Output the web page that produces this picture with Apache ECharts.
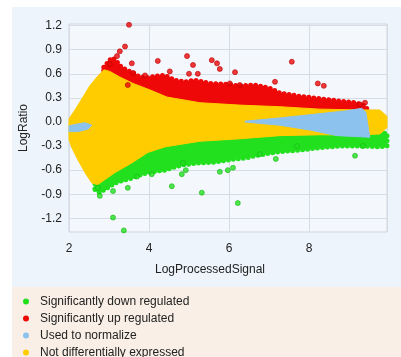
<!DOCTYPE html>
<html>
<head>
<meta charset="utf-8">
<script src="https://cdn.jsdelivr.net/npm/echarts@6/dist/echarts.min.js"></script>
<style>
  html, body { margin: 0; padding: 0; background: #fff; }
  #app { width: 401px; height: 357px; }
</style>
</head>
<body>
<div id="app"></div>
<script>
// values
const xTicks = [2, 4, 6, 8];
const yTicks = [-1.2, -0.9, -0.6, -0.3, 0, 0.3, 0.6, 0.9, 1.2];

const names = ['Significantly down regulated', 'Significantly up regulated', 'Used to normalize', 'Not differentially expressed'];

// dense cloud outlines
const yellowUpper = [[2.0,0.04],[2.15,0.15],[2.35,0.31],[2.52,0.45],[2.7,0.56],[2.87,0.65],[3.02,0.63],[3.27,0.56],[3.6,0.48],[4.02,0.4],[4.45,0.31],[5.27,0.24],[6.27,0.21],[7.27,0.19],[8.27,0.16],[9.27,0.15],[9.77,0.15],[9.95,0.07]];
const yellowLower = [[2.0,-0.22],[2.07,-0.32],[2.22,-0.47],[2.4,-0.63],[2.57,-0.76],[2.72,-0.78],[3.15,-0.63],[3.57,-0.51],[3.97,-0.38],[4.4,-0.31],[5.27,-0.24],[6.27,-0.21],[7.27,-0.17],[8.27,-0.16],[9.27,-0.16],[9.77,-0.15],[9.95,-0.07]];

const redBand = [[2.87,0.68],[2.97,0.74],[3.07,0.8],[3.17,0.77],[3.27,0.7],[3.42,0.65],[3.57,0.62],[3.77,0.56],[3.97,0.55],[4.17,0.57],[4.4,0.58],[4.65,0.52],[4.9,0.5],[5.15,0.52],[5.52,0.48],[5.9,0.47],[6.27,0.45],[6.65,0.46],[7.02,0.42],[7.27,0.36],[7.77,0.32],[8.27,0.29],[8.77,0.26],[9.15,0.24],[9.4,0.2],[9.47,0.15],[9.47,0.12],[2.87,0.12]];

const greenBand = [[2.65,-0.84],[2.77,-0.88],[3.02,-0.8],[3.15,-0.76],[3.4,-0.72],[3.57,-0.7],[3.77,-0.66],[3.97,-0.63],[4.22,-0.61],[4.4,-0.6],[4.65,-0.56],[4.9,-0.53],[5.27,-0.51],[5.65,-0.5],[6.02,-0.47],[6.4,-0.45],[6.77,-0.41],[7.27,-0.37],[7.77,-0.35],[8.27,-0.32],[8.77,-0.3],[9.27,-0.3],[9.77,-0.31],[9.95,-0.3],[9.95,-0.14],[2.65,-0.14]];

const blueLeft = [[2.0,-0.05],[2.15,-0.03],[2.4,-0.01],[2.57,-0.04],[2.47,-0.09],[2.22,-0.12],[2.0,-0.12]];
const blueRight = [[6.4,0.01],[7.27,0.05],[8.02,0.09],[8.95,0.14],[9.32,0.17],[9.42,0.12],[9.52,-0.19],[8.7,-0.17],[8.02,-0.1],[7.27,-0.04],[6.4,0.0]];

// scattered outliers
const upPoints = [[3.5,1.21],[3.4,0.94],[3.27,0.88],[3.2,0.82],[3.57,0.73],[4.22,0.76],[4.52,0.63],[3.6,0.61],[3.47,0.46],[4.95,0.82],[5.1,0.71],[5.57,0.77],[5.7,0.73],[5.77,0.66],[5.0,0.6],[5.22,0.6],[6.15,0.62],[6.02,0.48],[6.27,0.46],[7.15,0.5],[7.57,0.75],[8.22,0.48],[8.37,0.45],[9.27,0.22],[9.4,0.24],[3.9,0.58],[3.02,0.72]];
const downPoints = [[2.72,-0.82],[2.77,-0.92],[3.1,-0.86],[3.47,-0.82],[3.1,-1.19],[3.37,-1.35],[4.57,-0.8],[4.07,-0.65],[3.7,-0.68],[4.82,-0.65],[4.92,-0.6],[5.32,-0.88],[5.77,-0.62],[5.97,-0.6],[6.1,-0.57],[6.22,-1.01],[4.85,-0.51],[6.77,-0.4],[7.17,-0.46],[9.15,-0.42],[9.35,-0.3],[7.7,-0.3]];

const colors = {
  down: '#22e01e',
  up: '#ee0808',
  norm: '#8cc2ee',
  notDiff: '#ffcc00'
};

// filled outline of a dense cloud; beaded stroke gives the dotty edge
function polygon(name, color, pts, beads) {
  return {
    type: 'custom',
    name: name,
    silent: true,
    data: [pts[0]],
    itemStyle: { color: color },
    renderItem: function (params, api) {
      return {
        type: 'polygon',
        shape: { points: pts.map(p => api.coord(p)) },
        style: beads
          ? { fill: color, stroke: color, lineWidth: 5, lineDash: [0, 5], lineCap: 'round', lineJoin: 'round' }
          : { fill: color, stroke: color, lineWidth: 1 }
      };
    }
  };
}

var myChart = echarts.init(document.getElementById('app'));

let option = {
  backgroundColor: '#ffffff',
  animation: false,
  graphic: [
    { type: 'rect', z: -10, shape: { x: 12, y: 7, width: 389, height: 280 }, style: { fill: '#eef4fb' } },
    { type: 'rect', z: -10, shape: { x: 12, y: 287, width: 389, height: 70 }, style: { fill: '#f9efe6' } },
    { type: 'text', x: 24, y: 128, rotation: Math.PI / 2,
      style: { text: 'LogRatio', font: '12px "Liberation Sans", Arial, sans-serif', fill: '#222', textAlign: 'center', textVerticalAlign: 'middle' } },
    { type: 'text', x: 210, y: 270,
      style: { text: 'LogProcessedSignal', font: '12px "Liberation Sans", Arial, sans-serif', fill: '#222', textAlign: 'center', textVerticalAlign: 'middle' } }
  ],
  grid: {
    left: 69, right: 14, top: 24, bottom: 125,
    show: true,
    backgroundColor: '#f4f8fd',
    borderColor: '#cfd5de',
    borderWidth: 1
  },
  legend: {
    orient: 'vertical',
    left: 23, top: 295, height: 120,
    padding: 0,
    data: names,
    icon: 'circle',
    itemWidth: 6, itemHeight: 6,
    itemGap: 4,
    selectedMode: false,
    textStyle: { fontSize: 12, lineHeight: 13, color: '#222', fontFamily: '"Liberation Sans", Arial, sans-serif', padding: [0, 0, 0, 6] }
  },
  xAxis: {
    type: 'value',
    min: 2, max: 9.95, interval: 2,
    axisLine: { show: false },
    axisTick: { show: false },
    axisLabel: { color: '#222', fontSize: 12, margin: 11, fontFamily: '"Liberation Sans", Arial, sans-serif',
      customValues: xTicks },
    splitLine: { lineStyle: { color: '#d6dce5' } }
  },
  yAxis: {
    type: 'value',
    min: -1.37, max: 1.22,
    axisLine: { show: false },
    axisTick: { show: false, customValues: yTicks },
    axisLabel: { color: '#222', fontSize: 12, margin: 7, fontFamily: '"Liberation Sans", Arial, sans-serif',
      customValues: yTicks, formatter: v => v.toFixed(1) },
    splitLine: { lineStyle: { color: '#d6dce5' } }
  },
  series: [
    polygon(names[1], colors.up, redBand, true),
    polygon(names[0], colors.down, greenBand, true),
    polygon(names[3], colors.notDiff, yellowUpper.concat(yellowLower.slice().reverse()), false),
    polygon(names[2], colors.norm, blueLeft, false),
    polygon(names[2], colors.norm, blueRight, false),
    {
      type: 'scatter', name: names[1], data: upPoints, symbolSize: 5, clip: false,
      itemStyle: { color: colors.up, borderColor: '#b80000', borderWidth: 0.8 }
    },
    {
      type: 'scatter', name: names[0], data: downPoints, symbolSize: 5, clip: false,
      itemStyle: { color: colors.down, borderColor: '#18b818', borderWidth: 0.8 }
    }
  ]
};

myChart.setOption(option);
</script>
</body>
</html>
